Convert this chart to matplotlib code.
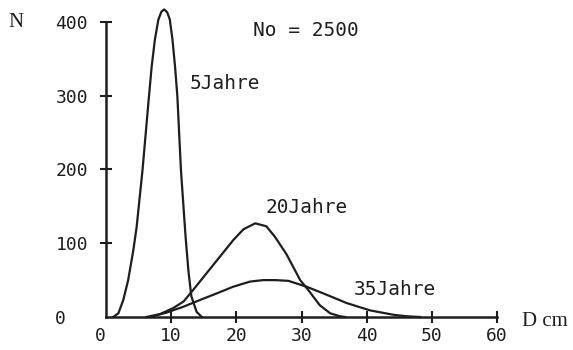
import matplotlib
matplotlib.use("Agg")
import matplotlib.pyplot as plt

# Durchmesserverteilung (D in cm, N Stammzahl) fuer drei Bestandesalter
d_5 = [1.1, 1.9, 2.65, 3.4, 4.2, 4.7, 5.6, 6.5, 7.0, 7.5, 8.03, 8.5, 8.94, 9.4, 9.8,
       10.2, 10.6, 10.95, 11.5, 12.2, 12.65, 13.1, 13.9, 14.7]
n_5 = [0, 5, 23, 50, 91, 122, 199, 290, 339, 376, 403, 414, 417, 413, 403,
       376, 339, 299, 199, 110, 62, 28, 7, 0]

d_20 = [6.2, 8.3, 10.3, 11.9, 13.4, 15.4, 17.5, 19.5, 21.1, 22.9, 24.6, 25.9, 27.7,
        29.8, 31.0, 32.8, 34.4, 35.9, 36.7]
n_20 = [0, 4, 12, 21, 37, 59, 82, 104, 119, 127, 123, 109, 85,
        50, 37, 16, 5, 1, 0]

d_35 = [6.75, 9.3, 11.9, 14.4, 17.0, 19.5, 22.1, 24.1, 26.0, 28.0, 30.8, 33.9,
        36.9, 40.5, 44.1, 46.1, 48.2]
n_35 = [0, 6, 14, 23, 32, 41, 48, 50, 50, 49, 41, 30,
        19, 9, 3, 1, 0]

x_ticks = [10, 20, 30, 40, 50, 60]
y_ticks = [0, 100, 200, 300, 400]

mono = "DejaVu Sans Mono"
serif = "Liberation Serif"
ink = "#1e1e1e"

fig = plt.figure(figsize=(5.73, 3.5), dpi=100)
ax = fig.add_axes([0.185, 0.0943, 0.6824, 0.8429])

for d, n in [(d_5, n_5), (d_20, n_20), (d_35, n_35)]:
    ax.plot(d, n, color=ink, lw=1.6, clip_on=False, solid_joinstyle="round")

ax.set_xlim(0, 60)
ax.set_ylim(0, 400)
for side in ["top", "right"]:
    ax.spines[side].set_visible(False)
for side in ["left", "bottom"]:
    ax.spines[side].set_linewidth(1.8)
    ax.spines[side].set_color(ink)

ax.set_xticks([0] + x_ticks)
ax.set_xticklabels(["0 "] + [str(v) for v in x_ticks], family=mono, fontsize=13, color=ink)
ax.set_yticks(y_ticks)
ax.set_yticklabels([f"{v:<3d}" for v in y_ticks], family=mono, fontsize=13, color=ink)
ax.tick_params(axis="both", direction="inout", length=8, width=1.5, color=ink)
ax.tick_params(axis="x", pad=3)
ax.tick_params(axis="y", pad=9)
ax.xaxis.get_major_ticks()[0].tick1line.set_visible(False)
ax.yaxis.get_major_ticks()[0].tick1line.set_visible(False)

ax.text(12.9, 316, "5Jahre", family=mono, fontsize=14, color=ink, va="center")
ax.text(24.4, 148, "20Jahre", family=mono, fontsize=14, color=ink, va="center")
ax.text(38.05, 37, "35Jahre", family=mono, fontsize=14, color=ink, va="center")
ax.text(22.6, 389, "No = 2500", family=mono, fontsize=14, color=ink, va="center")

fig.text(0.014, 0.937, "N", family=serif, fontsize=15, color=ink, va="center")
fig.text(0.911, 0.08, "D cm", family=serif, fontsize=15, color=ink, va="center")

fig.savefig("out.png", dpi=100, facecolor="white")
